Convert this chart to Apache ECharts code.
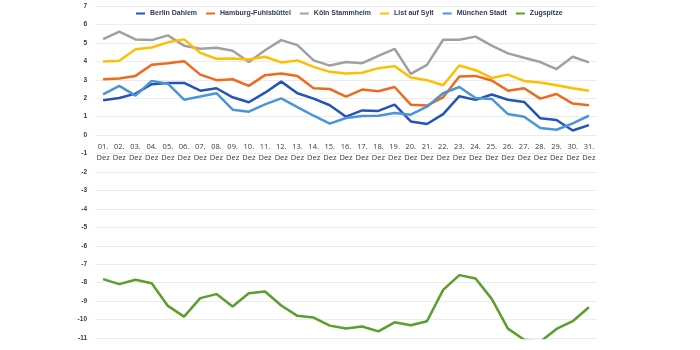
<!DOCTYPE html>
<html>
<head>
<meta charset="utf-8">
<script src="https://cdn.jsdelivr.net/npm/echarts@6/dist/echarts.min.js"></script>
<style>
    html, body { margin: 0; padding: 0; background: #fff; }
    #chart { width: 700px; height: 350px; }
</style>
</head>
<body>
<div id="chart"></div>
<script>
// Tage im Dezember
var days = ['01.', '02.', '03.', '04.', '05.', '06.', '07.', '08.', '09.', '10.',
    '11.', '12.', '13.', '14.', '15.', '16.', '17.', '18.', '19.', '20.',
    '21.', '22.', '23.', '24.', '25.', '26.', '27.', '28.', '29.', '30.', '31.'];

var berlinDahlem = [1.89, 2.01, 2.25, 2.76, 2.83, 2.83, 2.41, 2.54, 2.05, 1.78,
    2.30, 2.90, 2.27, 1.98, 1.62, 1.00, 1.34, 1.31, 1.65, 0.74,
    0.60, 1.14, 2.11, 1.91, 2.20, 1.92, 1.80, 0.91, 0.82, 0.25, 0.54];

var hamburgFuhlsbuettel = [3.03, 3.07, 3.21, 3.81, 3.90, 4.01, 3.28, 2.98, 3.03, 2.67,
    3.25, 3.34, 3.21, 2.54, 2.50, 2.09, 2.47, 2.38, 2.61, 1.65,
    1.60, 2.05, 3.18, 3.21, 2.96, 2.41, 2.54, 1.98, 2.23, 1.71, 1.62];

var koelnStammheim = [5.21, 5.61, 5.19, 5.15, 5.41, 4.85, 4.68, 4.74, 4.57, 3.96,
    4.60, 5.15, 4.88, 4.05, 3.77, 3.96, 3.90, 4.30, 4.68, 3.32,
    3.81, 5.17, 5.17, 5.34, 4.85, 4.43, 4.19, 3.96, 3.58, 4.25, 3.94];

var listAufSylt = [3.99, 4.03, 4.65, 4.75, 5.03, 5.19, 4.46, 4.14, 4.16, 4.10,
    4.25, 3.94, 4.05, 3.70, 3.43, 3.34, 3.38, 3.63, 3.74, 3.12,
    2.98, 2.70, 3.77, 3.52, 3.10, 3.28, 2.94, 2.85, 2.70, 2.54, 2.40];

var muenchenStadt = [2.21, 2.67, 2.14, 2.94, 2.79, 1.92, 2.09, 2.27, 1.38, 1.27,
    1.67, 1.99, 1.52, 1.05, 0.62, 0.93, 1.03, 1.05, 1.20, 1.11,
    1.54, 2.27, 2.61, 2.01, 1.96, 1.14, 1.00, 0.38, 0.29, 0.64, 1.05];

var zugspitze = [-7.81, -8.08, -7.84, -8.03, -9.26, -9.84, -8.84, -8.62, -9.29, -8.57,
    -8.48, -9.24, -9.80, -9.89, -10.33, -10.49, -10.38, -10.64, -10.15, -10.31,
    -10.09, -8.39, -7.59, -7.77, -8.88, -10.49, -11.09, -11.20, -10.51, -10.09, -9.33];

var yMin = -11, yMax = 7;

var seriesNames = ['Berlin Dahlem', 'Hamburg-Fuhlsbüttel', 'Köln Stammheim', 'List auf Sylt', 'München Stadt', 'Zugspitze'];
var seriesData = [berlinDahlem, hamburgFuhlsbuettel, koelnStammheim, listAufSylt, muenchenStadt, zugspitze];
var colors = ['#2553b7', '#ee6a1e', '#a0a0a0', '#ffbe00', '#4a95d8', '#5a9e2c'];

var chart = echarts.init(document.getElementById('chart'));

// plot area
var plotTop = 6, plotBottom = 338, plotLeft = 95, plotRight = 597;
var pxPerUnit = (plotBottom - plotTop) / (yMax - yMin);

var series = [];
for (var i = 0; i < seriesNames.length; i++) {
    series.push({
        name: seriesNames[i],
        type: 'line',
        xAxisIndex: 0,
        yAxisIndex: 0,
        data: seriesData[i],
        symbol: 'none',
        lineStyle: { width: 2.5, color: colors[i] },
        itemStyle: { color: colors[i] }
    });
}

var option = {
    animation: false,
    color: colors,
    legend: {
        top: 5,
        left: 131,
        icon: 'rect',
        itemWidth: 9,
        itemHeight: 2,
        itemGap: 9,
        textStyle: {
            fontFamily: 'Liberation Sans',
            fontSize: 7,
            fontWeight: 'bold',
            color: '#2e3a58'
        },
        data: seriesNames
    },
    grid: [
        // main plot
        { left: plotLeft, width: plotRight - plotLeft, top: plotTop, height: plotBottom - plotTop },
        // helper grid ending at the zero line, only carries the day labels
        { left: plotLeft, width: plotRight - plotLeft, top: plotTop, height: yMax * pxPerUnit }
    ],
    xAxis: [{
        type: 'category',
        gridIndex: 0,
        data: days,
        boundaryGap: true,
        axisLine: { show: false },
        axisTick: { show: false },
        axisLabel: { show: false }
    }, {
        type: 'category',
        gridIndex: 1,
        data: days,
        boundaryGap: true,
        axisLine: { show: false },
        axisTick: { show: false },
        axisLabel: {
            interval: 0,
            margin: 6,
            fontFamily: 'Open Sans',
            fontSize: 7.5,
            lineHeight: 11,
            color: '#3a3a3a',
            formatter: function (v) { return v + '\nDez'; }
        }
    }],
    yAxis: [{
        type: 'value',
        gridIndex: 0,
        min: yMin,
        max: yMax,
        interval: 1,
        axisLine: { show: false },
        axisTick: { show: false },
        axisLabel: {
            margin: 8,
            fontFamily: 'Liberation Sans',
            fontSize: 6.5,
            fontWeight: 'bold',
            color: '#2e3a58'
        },
        splitLine: { lineStyle: { color: '#ececec', width: 1 } }
    }, {
        type: 'value',
        gridIndex: 1,
        min: 0,
        max: yMax,
        show: false
    }],
    series: series
};

chart.setOption(option);
</script>
</body>
</html>
